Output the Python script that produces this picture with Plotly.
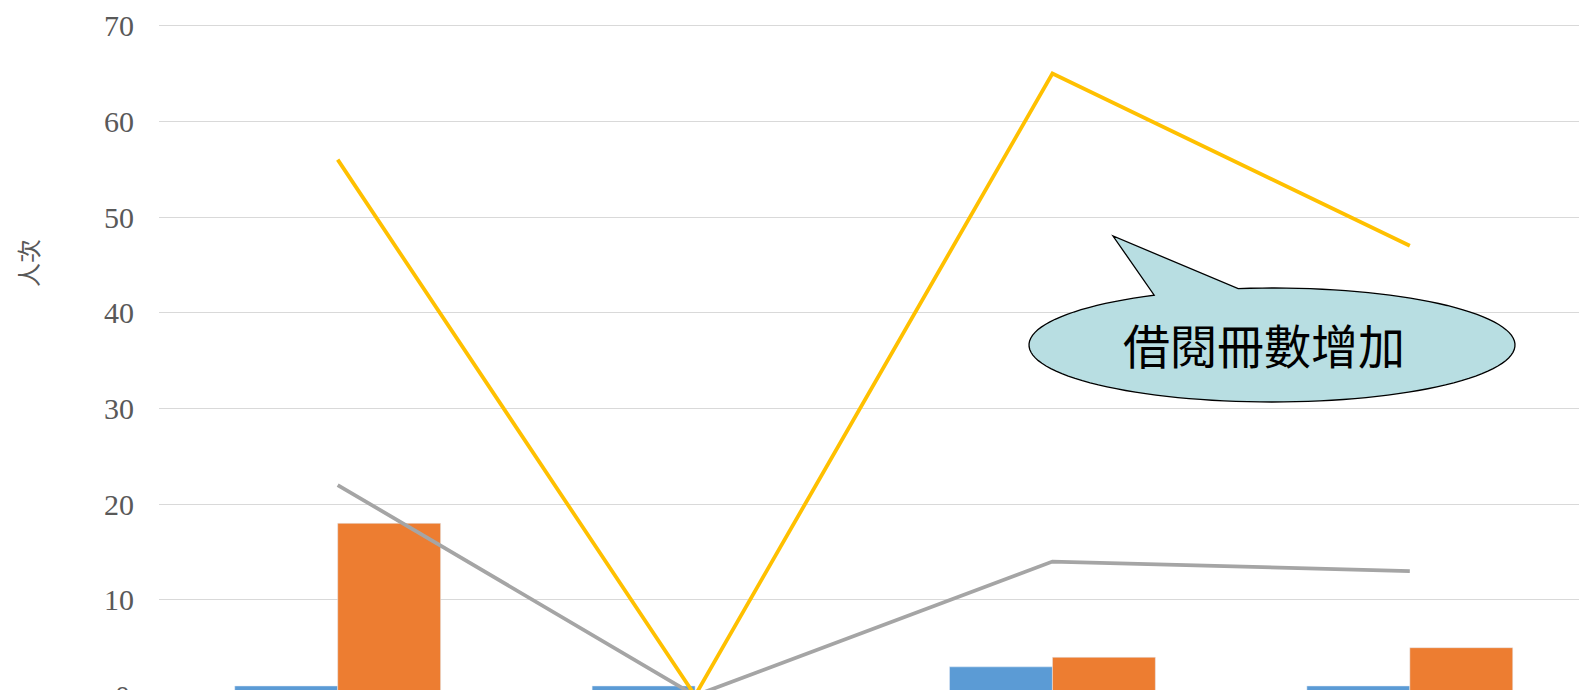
import numpy as np
import plotly.graph_objects as go

# ── data ──
categories = ["項目一", "項目二", "項目三", "項目四"]
blue_vals = [1, 1, 3, 1]
orange_vals = [18, 0, 4, 5]
gray_vals = [22, 0, 14, 13]
yellow_vals = [56, 0, 65, 47]
y_ticks = [0, 10, 20, 30, 40, 50, 60, 70]
callout_text = "借閱冊數增加"
axis_title = "人次"

# ── layout constants ──
W, H = 1579, 690
M_L, M_T = 159, 23
PLOT_W, PLOT_H = W - M_L, H - M_T
TICK_COLOR = "#595959"


def px(x, y):
    """pixel position -> paper coords"""
    return (x - M_L) / PLOT_W, (H - y) / PLOT_H


fig = go.Figure()
fig.add_trace(go.Bar(x=categories, y=blue_vals, name="系列1", marker_color="#5B9BD5"))
fig.add_trace(go.Bar(x=categories, y=orange_vals, name="系列2", marker_color="#ED7D31"))
fig.add_trace(go.Scatter(x=categories, y=gray_vals, name="系列3", mode="lines",
                         line=dict(color="#A5A5A5", width=3.8)))
fig.add_trace(go.Scatter(x=categories, y=yellow_vals, name="系列4", mode="lines",
                         line=dict(color="#FFC000", width=3.8)))

# callout bubble: ellipse with a tail
cx, cy, rx, ry = 1272, 345, 243, 57
t_start, t_end = np.radians(-98), np.radians(-119 + 360)
ts = np.linspace(t_start, t_end, 120)
pts = [px(cx + rx * np.cos(t), cy + ry * np.sin(t)) for t in ts]
pts.append(px(1113, 236))
path = "M " + " L ".join(f"{a:.5f},{b:.5f}" for a, b in pts) + " Z"
fig.add_shape(type="path", path=path, xref="paper", yref="paper",
              fillcolor="#B8DEE2", line=dict(color="black", width=1.3), layer="above")

tx, ty = px(1264, 343)
fig.add_annotation(x=tx, y=ty, xref="paper", yref="paper", text=callout_text,
                   showarrow=False, xanchor="center", yanchor="middle",
                   font=dict(family="Noto Sans CJK TC", size=47, color="black"))

# axis title
ax_x, ax_y = px(27, 263)
fig.add_annotation(x=ax_x, y=ax_y, xref="paper", yref="paper", text=axis_title,
                   showarrow=False, textangle=-90, xanchor="center", yanchor="middle",
                   font=dict(family="Noto Sans CJK TC", size=24, color=TICK_COLOR))

# partly cut-off zero label (as in the source image)
zx, zy = px(132, 695.7)
fig.add_annotation(x=zx, y=zy, xref="paper", yref="paper", text="0",
                   showarrow=False, xanchor="right", yanchor="middle",
                   font=dict(family="Liberation Serif", size=30, color=TICK_COLOR))

fig.update_layout(
    width=W, height=H,
    margin=dict(l=M_L, r=0, t=M_T, b=0, pad=0),
    paper_bgcolor="white", plot_bgcolor="white",
    barmode="group", bargap=0.424, bargroupgap=0,
    showlegend=False,
)
fig.update_xaxes(range=[-0.5, 3.4734], showticklabels=False, showgrid=False,
                 zeroline=False, showline=False, ticks="")
fig.update_yaxes(range=[0.58, 70.28], tickvals=y_ticks, showgrid=True, gridcolor="#D9D9D9",
                 gridwidth=1, zeroline=False, showline=False, ticks="",
                 ticklabelstandoff=24,
                 tickfont=dict(family="Liberation Serif", size=30, color=TICK_COLOR))

fig.write_html("out.html", config={"displayModeBar": False},
               post_script="document.body.style.margin='0';")
